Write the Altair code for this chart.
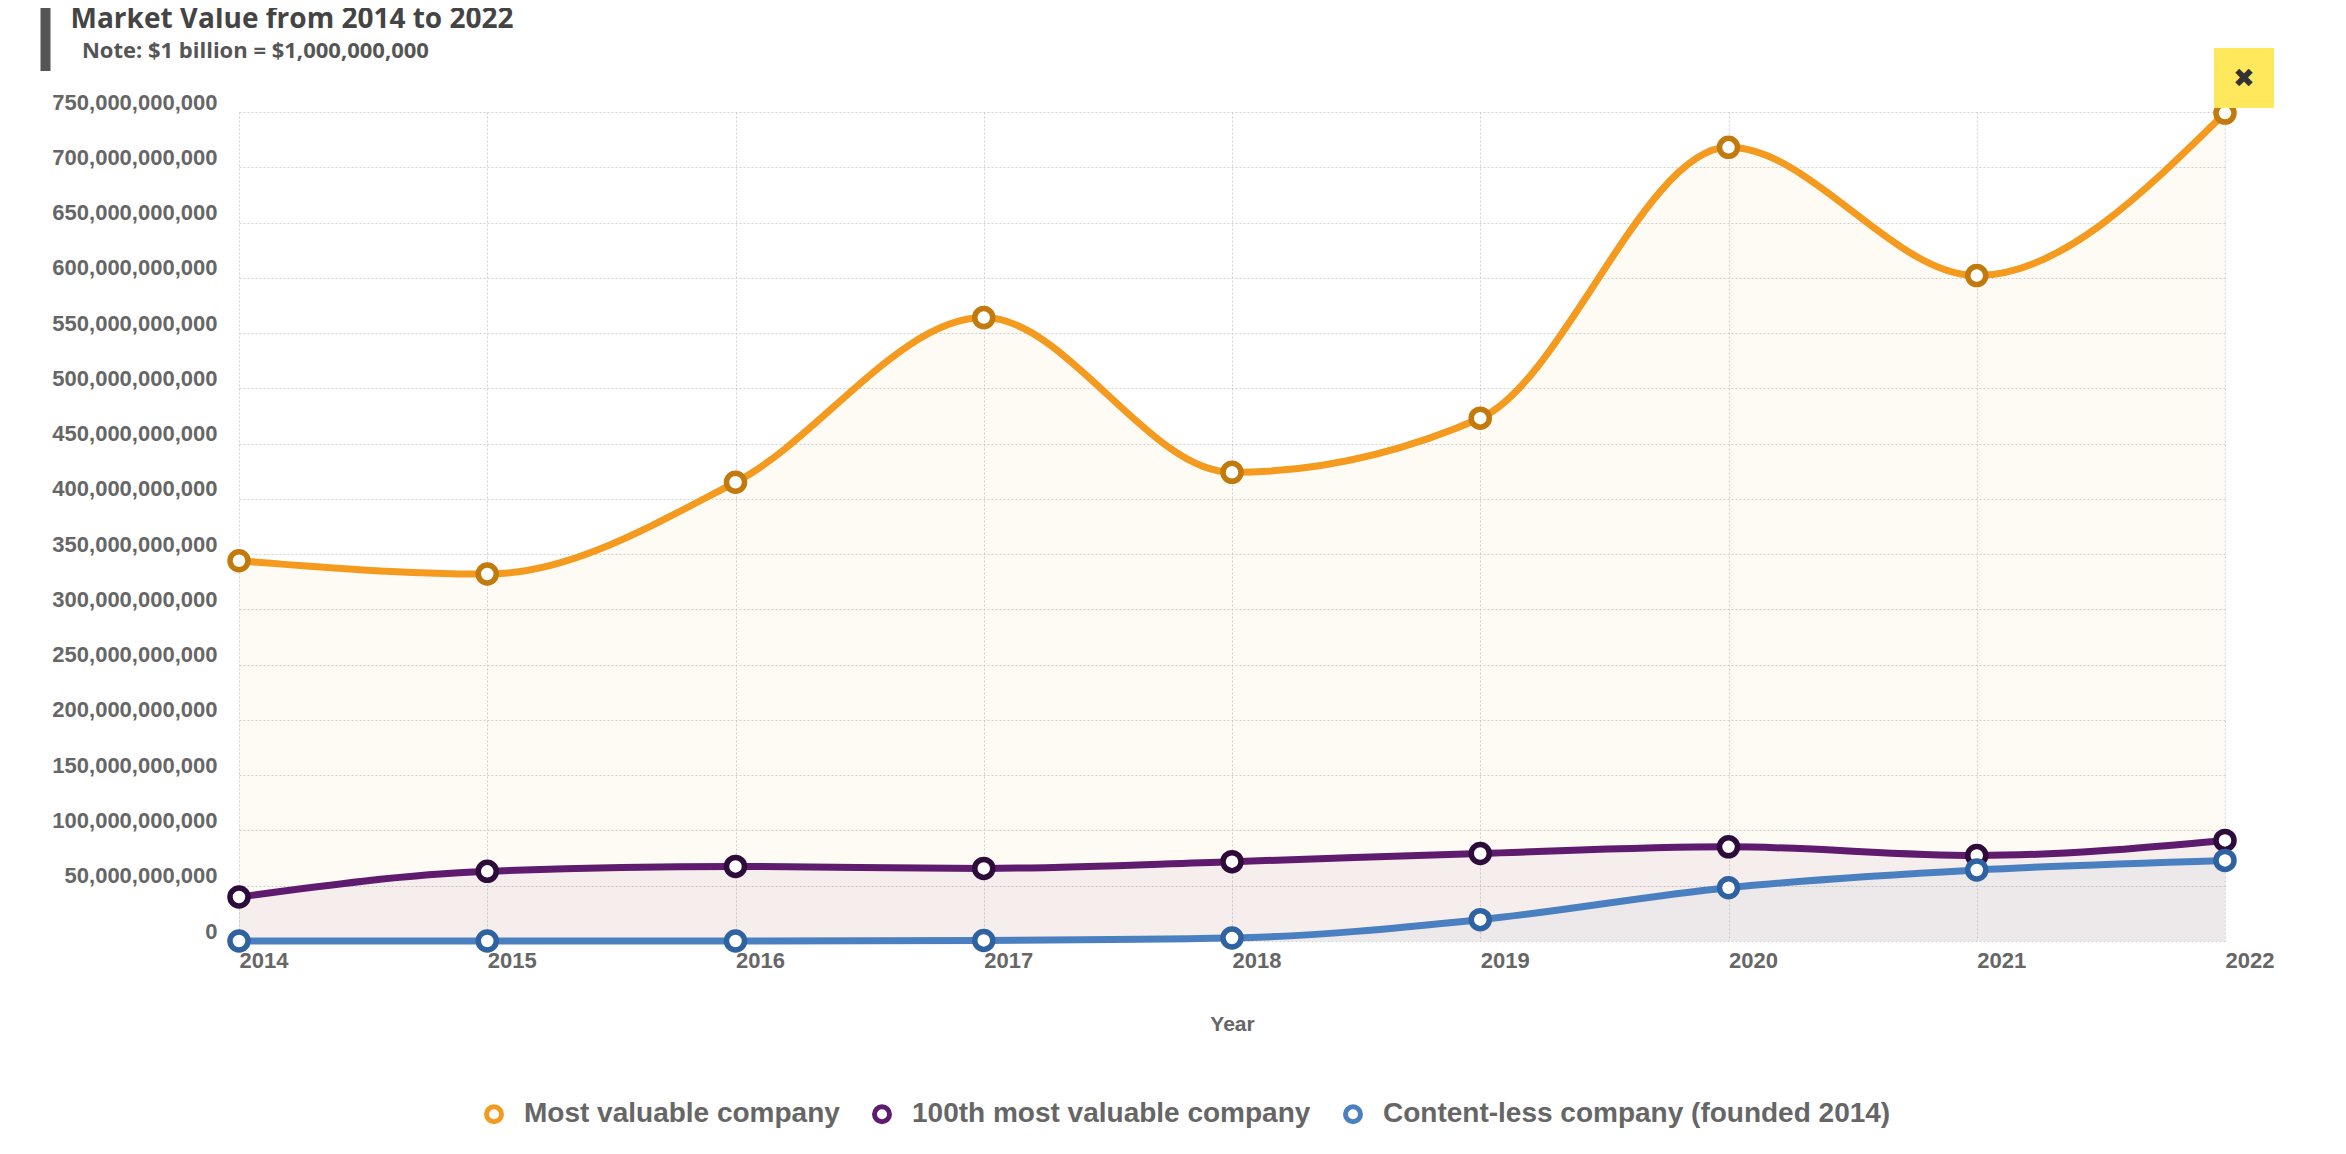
import altair as alt
import pandas as pd

years = [2014, 2015, 2016, 2017, 2018, 2019, 2020, 2021, 2022]
series_names = ["Most valuable company", "100th most valuable company", "Content-less company (founded 2014)"]
most_valuable = [344e9, 332e9, 415e9, 564e9, 424e9, 473e9, 718e9, 602e9, 749e9]
hundredth = [39.8e9, 63e9, 67.5e9, 65.7e9, 71.8e9, 79.2e9, 85.2e9, 77.4e9, 91e9]
contentless = [0, 0, 0, 0.5e9, 2.7e9, 19.3e9, 48.2e9, 64.2e9, 72.9e9]
y_ticks = [i * 50e9 for i in range(16)]

line_colors = ["#F39A1F", "#5F1B6E", "#4A80C0"]
point_strokes = ["#C27A0C", "#2D0B3A", "#2F62A0"]

rows = []
for name, vals in zip(series_names, [most_valuable, hundredth, contentless]):
    for yr, v in zip(years, vals):
        rows.append({"Year": yr, "Value": v, "Series": name})
df = pd.DataFrame(rows)

x_enc = alt.X("Year:Q",
              scale=alt.Scale(domain=[2014, 2022], nice=False, zero=False),
              axis=alt.Axis(values=years, format="d", title="Year", labelAlign="left",
                            labelBaseline="top", labelPadding=9, labelFontSize=22,
                            labelFont="Liberation Sans", labelFontWeight="bold", labelColor="#666",
                            titleFont="Liberation Sans", titleFontSize=21, titleFontWeight="bold",
                            titleColor="#666", titlePadding=42, ticks=False, domain=False,
                            grid=True, gridDash=[2, 2], gridColor="#d0d0d0"))
y_enc = alt.Y("Value:Q",
              scale=alt.Scale(domain=[0, 750e9], nice=False), stack=None,
              axis=alt.Axis(values=y_ticks, format=",.0f", title=None, labelFontSize=22,
                            labelFont="Liberation Sans", labelFontWeight="bold", labelColor="#666",
                            labelPadding=22, labelOffset=-10, ticks=False, domain=False,
                            grid=True, gridDash=[2, 2], gridColor="#d0d0d0"))

base = alt.Chart(df)

areas = []
pts = []
for name, lc, pc in zip(series_names, line_colors, point_strokes):
    sub = base.transform_filter(alt.datum.Series == name)
    areas.append(sub.mark_area(interpolate="monotone", color=lc, fillOpacity=0.05).encode(
        x=x_enc, y=y_enc))
    pts.append(sub.mark_point(shape="circle", filled=False, fill="white", fillOpacity=1,
                              stroke=pc, strokeWidth=5.5, size=324, opacity=1).encode(
        x="Year:Q", y="Value:Q"))

line = base.mark_line(interpolate="monotone", strokeWidth=7).encode(
    x="Year:Q", y=alt.Y("Value:Q", stack=None),
    color=alt.Color("Series:N", scale=alt.Scale(domain=series_names, range=line_colors),
                    legend=alt.Legend(title=None, orient="none", direction="horizontal",
                                      legendX=241, legendY=988, symbolType="circle",
                                      symbolSize=225, symbolStrokeWidth=5,
                                      symbolFillColor="white", labelFontSize=28,
                                      labelFont="Liberation Sans", labelFontWeight="bold",
                                      labelColor="#666", labelOffset=16, columnPadding=24,
                                      padding=0, labelLimit=800)),
)

deco = alt.Chart(pd.DataFrame({"k": [0]}))
bar = deco.mark_rule(color="#555", strokeWidth=10).encode(
    x=alt.value(-193.5), y=alt.value(-104), y2=alt.value(-41))
btn = deco.mark_square(color="#FFE85C", size=3600, opacity=1).encode(
    x=alt.value(2005), y=alt.value(-34))
btn_x = deco.mark_text(text="\u2716", font="DejaVu Sans", fontSize=26, color="#333").encode(
    x=alt.value(2005), y=alt.value(-33))

chart = alt.layer(*areas, line, *pts, bar, btn, btn_x).properties(
    width=1986, height=829,
    autosize=alt.AutoSizeParams(type="none"),
    padding={"left": 231, "top": 104, "right": 100, "bottom": 190},
    title=alt.TitleParams(text="Market Value from 2014 to 2022",
                          subtitle="\u200b\u00a0\u00a0Note: $1 billion = $1,000,000,000",
                          anchor="start", frame="bounds", dx=30, offset=-59,
                          font="Open Sans", fontSize=28, fontWeight="bold", color="#444",
                          subtitleFont="Open Sans", subtitleFontSize=22,
                          subtitleFontWeight="bold", subtitleColor="#555", subtitlePadding=7),
).configure_view(stroke=None)

chart.save("out.html", embed_options={"renderer": "svg", "actions": False})
